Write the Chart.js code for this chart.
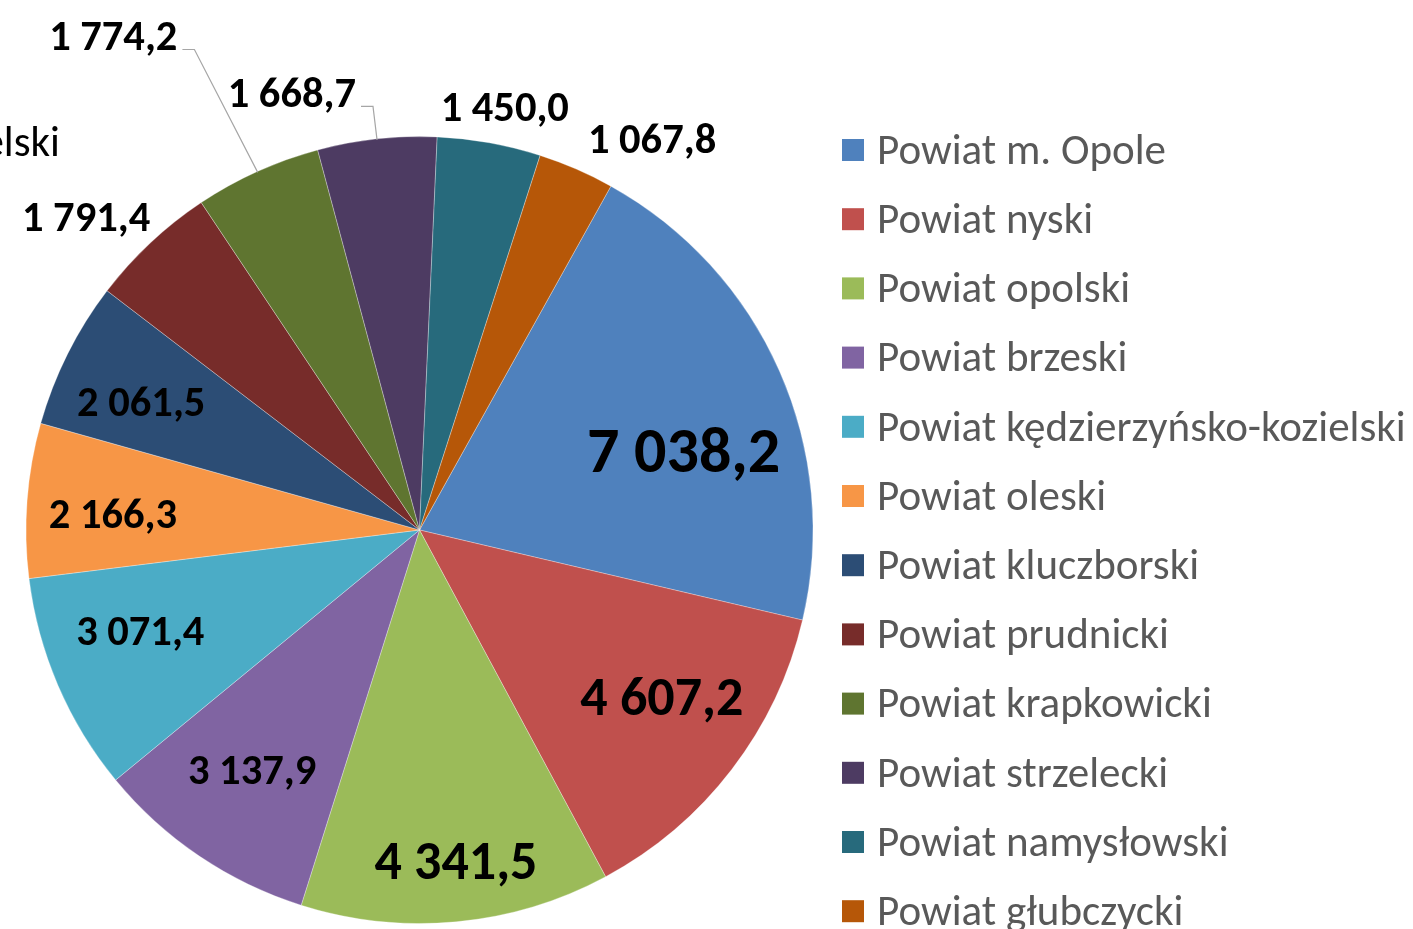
<!DOCTYPE html>
<html>
<head>
<meta charset="utf-8">
<script src="https://cdn.jsdelivr.net/npm/chart.js@4"></script>
<style>
  body { margin: 0; background: #fff; }
  #wrap { width: 1413px; height: 929px; position: relative; }
</style>
</head>
<body>
<div id="wrap"><canvas id="wykresPowiaty"></canvas></div>
<script>
var powiaty = [
  "Powiat m. Opole", "Powiat nyski", "Powiat opolski", "Powiat brzeski",
  "Powiat kędzierzyńsko-kozielski", "Powiat oleski", "Powiat kluczborski",
  "Powiat prudnicki", "Powiat krapkowicki", "Powiat strzelecki",
  "Powiat namysłowski", "Powiat głubczycki"
];
var wartosci = [7038.2, 4607.2, 4341.5, 3137.9, 3071.4, 2166.3, 2061.5, 1791.4, 1774.2, 1668.7, 1450.0, 1067.8];
var kolory = ["#4F81BD", "#C0504D", "#9BBB59", "#8064A2", "#4BACC6", "#F79646",
  "#2C4D75", "#772C2A", "#5F7530", "#4D3B62", "#276A7C", "#B65708"];

// placement of value labels: [angle offset from slice middle (deg), radius fraction, font size]
var etykiety = [
  [7.4, 0.70, 64], [-2.7, 0.75, 54], [-0.9, 0.85, 54], [0.8, 0.745, 42.5],
  [3.3, 0.755, 42.5], [-1.5, 0.78, 42.5], [-2.1, 0.777, 42.5], [-3.8, 1.16, 42.5],
  [-7.5, 1.475, 42.5], [-10.1, 1.155, 42.5], [1.2, 1.095, 42.5], [7.3, 1.155, 42.5]
];
var linieOdniesienia = { 8: true, 9: true };

var czcionka = "Carlito, Calibri, Lato, sans-serif";

function formatPL(v) {
  var parts = v.toFixed(1).split(".");
  var calk = parts[0].replace(/\B(?=(\d{3})+(?!\d))/g, " ");
  return calk + "," + parts[1];
}

var etykietyPlugin = {
  id: "etykietyPlugin",
  afterDraw: function(chart) {
    var ctx = chart.ctx;
    var meta = chart.getDatasetMeta(0);
    ctx.save();
    meta.data.forEach(function(arc, i) {
      var p = arc.getProps(["x", "y", "startAngle", "endAngle", "outerRadius"], true);
      var mid = (p.startAngle + p.endAngle) / 2 + etykiety[i][0] * Math.PI / 180;
      var r = p.outerRadius * etykiety[i][1];
      var tx = p.x + Math.cos(mid) * r;
      var ty = p.y + Math.sin(mid) * r + etykiety[i][2] * 0.06;
      ctx.font = "bold " + etykiety[i][2] + "px " + czcionka;
      ctx.fillStyle = "#000";
      ctx.textAlign = "center";
      ctx.textBaseline = "middle";
      var txt = formatPL(wartosci[i]);
      ctx.fillText(txt, tx, ty);

      if (linieOdniesienia[i]) {
        var w = ctx.measureText(txt).width;
        var am = (p.startAngle + p.endAngle) / 2;
        var ex = p.x + Math.cos(am) * (p.outerRadius - 1);
        var ey = p.y + Math.sin(am) * (p.outerRadius - 1);
        var sx = tx + w / 2 + 5;
        var sy = ty + 10;
        ctx.strokeStyle = "#A6A6A6";
        ctx.lineWidth = 1.2;
        ctx.beginPath();
        ctx.moveTo(sx, sy);
        ctx.lineTo(sx + 12, sy);
        ctx.lineTo(ex, ey);
        ctx.stroke();
      }
    });

    // legend
    var fs = 40;
    ctx.font = fs + "px " + czcionka;
    var maxW = 0;
    powiaty.forEach(function(n) { maxW = Math.max(maxW, ctx.measureText(n).width); });
    fs = fs * 529 / maxW;
    ctx.font = fs + "px " + czcionka;
    ctx.textAlign = "left";
    ctx.textBaseline = "middle";
    powiaty.forEach(function(n, i) {
      var y = 150 + i * 69.2;
      ctx.fillStyle = kolory[i];
      ctx.fillRect(842, y - 11, 22, 22);
      ctx.fillStyle = "#595959";
      ctx.fillText(n, 877, y + 3);
    });

    // category label cut off at the left edge
    ctx.fillStyle = "#000";
    ctx.textAlign = "right";
    ctx.fillText(powiaty[4], 60, 145);
    ctx.restore();
  }
};

var ctx = document.getElementById("wykresPowiaty").getContext("2d");
var wykres = new Chart(ctx, {
  type: "pie",
  data: {
    labels: powiaty,
    datasets: [{
      data: wartosci,
      backgroundColor: kolory,
      borderColor: "rgba(255,255,255,0.3)",
      borderWidth: 1
    }]
  },
  options: {
    responsive: true,
    maintainAspectRatio: false,
    animation: false,
    rotation: 29.1,
    layout: { padding: { left: 25.5, right: 599.5, top: 136, bottom: 5 } },
    plugins: {
      legend: { display: false },
      tooltip: { enabled: false }
    }
  },
  plugins: [etykietyPlugin]
});
</script>
</body>
</html>
